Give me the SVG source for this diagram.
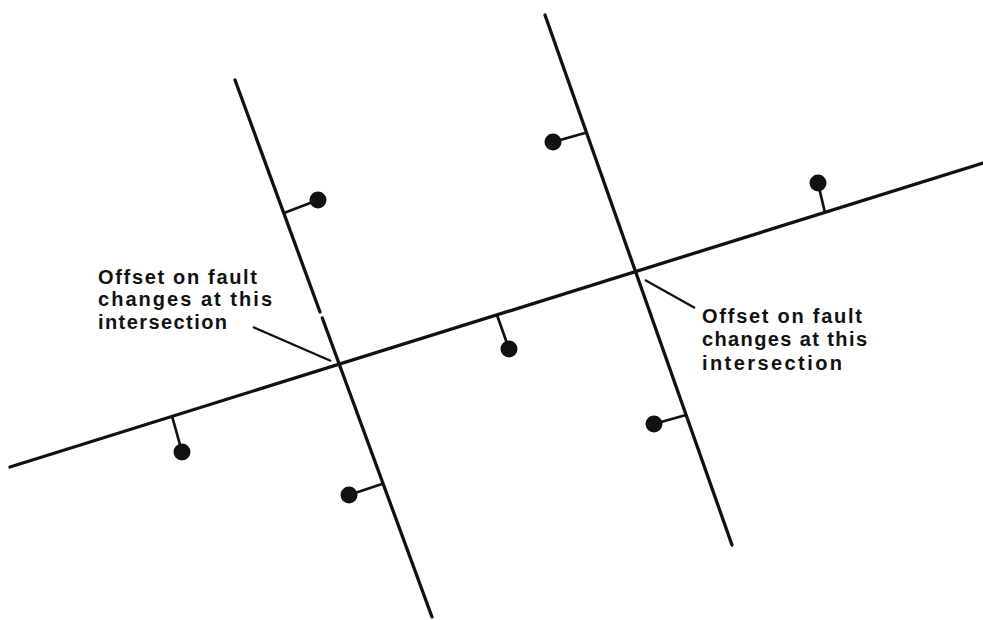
<svg xmlns="http://www.w3.org/2000/svg" width="983" height="620" viewBox="0 0 983 620">
<style>
.fault{stroke:#111;stroke-width:3.3;fill:none;stroke-linecap:round}
.stick{stroke:#111;stroke-width:2.7;fill:none}
.ball{fill:#111}
.lead{stroke:#111;stroke-width:2.3;fill:none}
.lbl{font-family:"Liberation Sans",Arial,sans-serif;font-size:20px;font-weight:bold;fill:#111}
</style>
<rect width="983" height="620" fill="#fff"/>
<g id="connectors">
<path id="main-fault" class="fault" d="M10,467 L983,163"/>
<path id="left-fault" class="fault" d="M235,80 L320,312 M322.3,318 L432,617"/>
<path id="right-fault" class="fault" d="M545,15 L732,545"/>
<path class="lead" d="M253,327 L331,361"/>
<path class="lead" d="M645,280 L695,308"/>
</g>
<g id="tick-left-upper"><path class="stick" d="M284,213 L318,200"/><circle class="ball" cx="318" cy="200" r="8.5"/></g>
<g id="tick-right-upper"><path class="stick" d="M585,133 L553,142"/><circle class="ball" cx="553" cy="142" r="8.5"/></g>
<g id="tick-top-right"><path class="stick" d="M825,213 L818,183"/><circle class="ball" cx="818" cy="183" r="8.5"/></g>
<g id="tick-middle"><path class="stick" d="M497,315 L509,349"/><circle class="ball" cx="509" cy="349" r="8.5"/></g>
<g id="tick-lower-left"><path class="stick" d="M172,416 L182,452"/><circle class="ball" cx="182" cy="452" r="8.5"/></g>
<g id="tick-left-lower"><path class="stick" d="M382,484 L349,495"/><circle class="ball" cx="349" cy="495" r="8.5"/></g>
<g id="tick-right-lower"><path class="stick" d="M686,415 L654,424"/><circle class="ball" cx="654" cy="424" r="8.5"/></g>
<g id="label-left">
<text class="lbl" x="98" y="284" textLength="159" lengthAdjust="spacing">Offset on fault</text>
<text class="lbl" x="98" y="306" textLength="174" lengthAdjust="spacing">changes at this</text>
<text class="lbl" x="98" y="329" textLength="129" lengthAdjust="spacing">intersection</text>
</g>
<g id="label-right">
<text class="lbl" x="702" y="323" textLength="160" lengthAdjust="spacing">Offset on fault</text>
<text class="lbl" x="702" y="346" textLength="165" lengthAdjust="spacing">changes at this</text>
<text class="lbl" x="702" y="370" textLength="140" lengthAdjust="spacing">intersection</text>
</g>
</svg>
